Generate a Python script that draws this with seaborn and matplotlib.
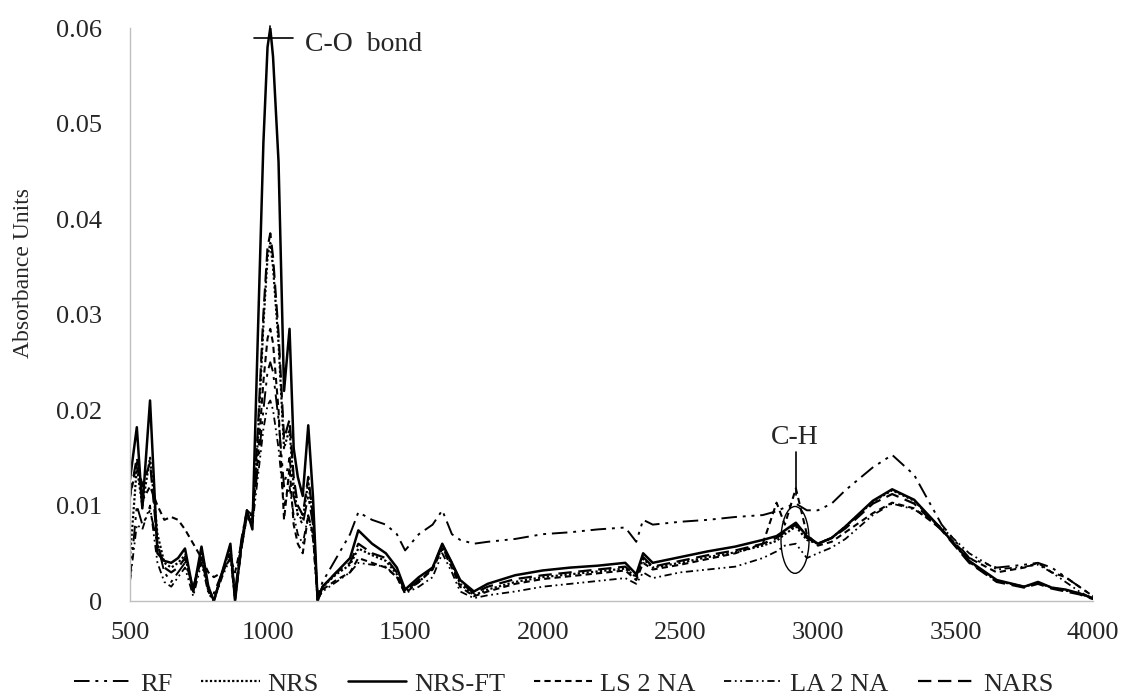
import matplotlib
matplotlib.use("Agg")
import pandas as pd
import matplotlib.pyplot as plt
import seaborn as sns
from matplotlib.patches import Ellipse

wavenumber = [500, 525, 545, 573, 600, 625, 650, 675, 700, 730,
              760, 785, 805, 835, 865, 882, 905, 925, 945, 965,
              985, 1000, 1010, 1020, 1040, 1060, 1080, 1095, 1110, 1128,
              1148, 1165, 1182, 1200, 1250, 1300, 1330, 1380, 1430, 1470,
              1500, 1550, 1600, 1635, 1670, 1700, 1750, 1800, 1900, 2000,
              2100, 2200, 2300, 2340, 2365, 2400, 2500, 2600, 2700, 2800,
              2850, 2880, 2920, 2960, 3000, 3050, 3100, 3200, 3270, 3350,
              3450, 3550, 3650, 3750, 3800, 3850, 3900, 3950, 4000]

rf = [0.0022, 0.0100, 0.0080, 0.0095, 0.0060, 0.0030, 0.0020, 0.0030, 0.0040, 0.0015,
      0.0045, 0.0015, 0.0008, 0.0030, 0.0050, 0.0010, 0.0065, 0.0095, 0.0090, 0.0140,
      0.0200, 0.0240, 0.0250, 0.0240, 0.0190, 0.0120, 0.0150, 0.0110, 0.0090, 0.0080,
      0.0110, 0.0080, 0.0005, 0.0020, 0.0045, 0.0070, 0.0093, 0.0085, 0.0080, 0.0070,
      0.0053, 0.0070, 0.0080, 0.0095, 0.0070, 0.0064, 0.0060, 0.0062, 0.0065, 0.0070,
      0.0072, 0.0075, 0.0077, 0.0062, 0.0085, 0.0080, 0.0083, 0.0085, 0.0088, 0.0090,
      0.0094, 0.0098, 0.0102, 0.0095, 0.0095, 0.0102, 0.0116, 0.0140, 0.0153, 0.0132,
      0.0080, 0.0045, 0.0035, 0.0038, 0.0040, 0.0035, 0.0025, 0.0015, 0.0005]

nrs = [0.0045, 0.0140, 0.0100, 0.0150, 0.0070, 0.0040, 0.0035, 0.0040, 0.0048, 0.0010,
       0.0050, 0.0010, 0.0000, 0.0030, 0.0055, 0.0002, 0.0058, 0.0092, 0.0080, 0.0170,
       0.0290, 0.0360, 0.0375, 0.0350, 0.0270, 0.0160, 0.0180, 0.0120, 0.0090, 0.0085,
       0.0125, 0.0085, 0.0001, 0.0015, 0.0028, 0.0038, 0.0055, 0.0048, 0.0042, 0.0028,
       0.0010, 0.0020, 0.0034, 0.0056, 0.0038, 0.0018, 0.0006, 0.0012, 0.0020, 0.0025,
       0.0028, 0.0031, 0.0034, 0.0025, 0.0044, 0.0035, 0.0040, 0.0046, 0.0051, 0.0058,
       0.0063, 0.0070, 0.0078, 0.0064, 0.0060, 0.0066, 0.0078, 0.0104, 0.0116, 0.0105,
       0.0075, 0.0041, 0.0021, 0.0015, 0.0019, 0.0014, 0.0011, 0.0008, 0.0003]

nrs_ft = [0.0127, 0.0182, 0.0097, 0.0210, 0.0050, 0.0042, 0.0040, 0.0045, 0.0055, 0.0010,
          0.0057, 0.0015, 0.0000, 0.0030, 0.0060, 0.0000, 0.0060, 0.0095, 0.0075, 0.0280,
          0.0480, 0.0580, 0.0600, 0.0570, 0.0460, 0.0220, 0.0285, 0.0160, 0.0130, 0.0110,
          0.0184, 0.0110, 0.0000, 0.0015, 0.0030, 0.0045, 0.0074, 0.0060, 0.0050, 0.0035,
          0.0012, 0.0025, 0.0035, 0.0060, 0.0040, 0.0022, 0.0010, 0.0018, 0.0027, 0.0032,
          0.0035, 0.0037, 0.0040, 0.0028, 0.0050, 0.0040, 0.0046, 0.0052, 0.0057, 0.0064,
          0.0068, 0.0074, 0.0082, 0.0068, 0.0060, 0.0066, 0.0078, 0.0105, 0.0117, 0.0106,
          0.0075, 0.0042, 0.0022, 0.0015, 0.0020, 0.0014, 0.0012, 0.0008, 0.0003]

ls2na = [0.0108, 0.0145, 0.0105, 0.0120, 0.0100, 0.0085, 0.0088, 0.0085, 0.0075, 0.0060,
         0.0045, 0.0030, 0.0025, 0.0030, 0.0045, 0.0030, 0.0060, 0.0090, 0.0090, 0.0150,
         0.0230, 0.0275, 0.0285, 0.0270, 0.0200, 0.0085, 0.0140, 0.0080, 0.0060, 0.0050,
         0.0090, 0.0070, 0.0002, 0.0012, 0.0022, 0.0030, 0.0045, 0.0040, 0.0035, 0.0025,
         0.0008, 0.0020, 0.0033, 0.0055, 0.0035, 0.0015, 0.0005, 0.0010, 0.0018, 0.0023,
         0.0026, 0.0029, 0.0032, 0.0022, 0.0040, 0.0033, 0.0038, 0.0044, 0.0050, 0.0060,
         0.0103, 0.0080, 0.0118, 0.0070, 0.0058, 0.0062, 0.0072, 0.0092, 0.0103, 0.0097,
         0.0075, 0.0045, 0.0030, 0.0035, 0.0040, 0.0030, 0.0025, 0.0015, 0.0005]

la2na = [0.0020, 0.0080, 0.0075, 0.0100, 0.0040, 0.0020, 0.0015, 0.0025, 0.0035, 0.0005,
         0.0040, 0.0008, 0.0000, 0.0025, 0.0045, 0.0002, 0.0055, 0.0088, 0.0080, 0.0130,
         0.0180, 0.0205, 0.0210, 0.0200, 0.0160, 0.0100, 0.0120, 0.0090, 0.0070, 0.0060,
         0.0090, 0.0065, 0.0002, 0.0010, 0.0020, 0.0030, 0.0040, 0.0038, 0.0036, 0.0025,
         0.0008, 0.0015, 0.0025, 0.0050, 0.0030, 0.0010, 0.0003, 0.0006, 0.0010, 0.0015,
         0.0018, 0.0021, 0.0024, 0.0018, 0.0030, 0.0024, 0.0030, 0.0033, 0.0036, 0.0045,
         0.0052, 0.0058, 0.0060, 0.0045, 0.0050, 0.0056, 0.0065, 0.0090, 0.0102, 0.0096,
         0.0077, 0.0050, 0.0033, 0.0036, 0.0038, 0.0030, 0.0020, 0.0010, 0.0002]

nars = [0.0110, 0.0150, 0.0120, 0.0145, 0.0060, 0.0035, 0.0030, 0.0035, 0.0045, 0.0012,
        0.0045, 0.0012, 0.0002, 0.0028, 0.0050, 0.0003, 0.0055, 0.0090, 0.0085, 0.0180,
        0.0300, 0.0370, 0.0385, 0.0360, 0.0280, 0.0170, 0.0190, 0.0130, 0.0100, 0.0090,
        0.0130, 0.0090, 0.0002, 0.0015, 0.0030, 0.0040, 0.0060, 0.0050, 0.0045, 0.0030,
        0.0010, 0.0022, 0.0035, 0.0058, 0.0040, 0.0020, 0.0008, 0.0015, 0.0023, 0.0027,
        0.0030, 0.0033, 0.0036, 0.0026, 0.0046, 0.0036, 0.0042, 0.0048, 0.0053, 0.0060,
        0.0066, 0.0072, 0.0080, 0.0066, 0.0060, 0.0066, 0.0076, 0.0102, 0.0112, 0.0102,
        0.0074, 0.0040, 0.0020, 0.0014, 0.0018, 0.0013, 0.0010, 0.0007, 0.0002]

series_names = ["RF", "NRS", "NRS-FT", "LS 2 NA", "LA 2 NA", "NARS"]
series_values = [rf, nrs, nrs_ft, ls2na, la2na, nars]
series_styles = {
    "RF": ((0, (8, 3, 1.5, 3, 1.5, 3)), 1.4),
    "NRS": ((0, (1, 1)), 1.6),
    "NRS-FT": ("-", 1.8),
    "LS 2 NA": ((0, (3, 2)), 1.5),
    "LA 2 NA": ((0, (4, 2, 1, 2, 1, 2)), 1.3),
    "NARS": ((0, (6, 3)), 1.6),
}

x_ticks = [500, 1000, 1500, 2000, 2500, 3000, 3500, 4000]
y_ticks = [0, 0.01, 0.02, 0.03, 0.04, 0.05, 0.06]
y_tick_labels = ["0", "0.01", "0.02", "0.03", "0.04", "0.05", "0.06"]

sns.set_style("white")
plt.rcParams["font.family"] = ["Liberation Serif", "DejaVu Serif"]

fig = plt.figure(figsize=(11.28, 6.97), dpi=100)
ax = fig.add_axes([0.1152, 0.1377, 0.969 - 0.1152, 0.9598 - 0.1377])

for name, vals in zip(series_names, series_values):
    df = pd.DataFrame({"x": wavenumber, "y": vals})
    ls, lw = series_styles[name]
    sns.lineplot(data=df, x="x", y="y", ax=ax, color="black", linestyle=ls,
                 linewidth=lw, label=name, estimator=None)

ax.set_xlim(500, 4000)
ax.set_ylim(0, 0.06)
ax.set_xticks(x_ticks)
ax.set_xticklabels([str(t) for t in x_ticks], fontsize=19)
ax.set_yticks(y_ticks)
ax.set_yticklabels(y_tick_labels, fontsize=19)
ax.tick_params(axis="both", length=0)
ax.tick_params(axis="x", pad=15)
ax.tick_params(axis="y", pad=20)
ax.set_xlabel("")
ax.set_ylabel("Absorbance Units", fontsize=17)
ax.yaxis.set_label_coords(-0.1, 0.572)

for side in ["top", "right"]:
    ax.spines[side].set_visible(False)
for side in ["left", "bottom"]:
    ax.spines[side].set_color("#bfbfbf")
    ax.spines[side].set_linewidth(1.0)

# C-O bond marker
ax.plot([951, 1093], [0.0590, 0.0590], color="black", linewidth=1.2, clip_on=False)
ax.plot([1010, 1010], [0.0590, 0.0602], color="black", linewidth=1.2, clip_on=False)
ax.text(1136, 0.0583, "C-O  bond", fontsize=20, va="center", ha="left")

# C-H marker
ax.plot([2920, 2920], [0.0111, 0.0156], color="black", linewidth=1.2)
ax.text(2917, 0.0158, "C-H", fontsize=20, va="bottom", ha="center")
ax.add_patch(Ellipse((2917, 0.0064), 102, 0.0070, fill=False, edgecolor="black", linewidth=1.0))

h, l = ax.get_legend_handles_labels()
ax.legend().remove()
fig.legend(h, l, loc="lower center", bbox_to_anchor=(0.5, -0.032), ncols=6, frameon=False,
           fontsize=19, handlelength=2.2, handletextpad=0.3, columnspacing=1.1)

plt.savefig("out.png", dpi=100)
